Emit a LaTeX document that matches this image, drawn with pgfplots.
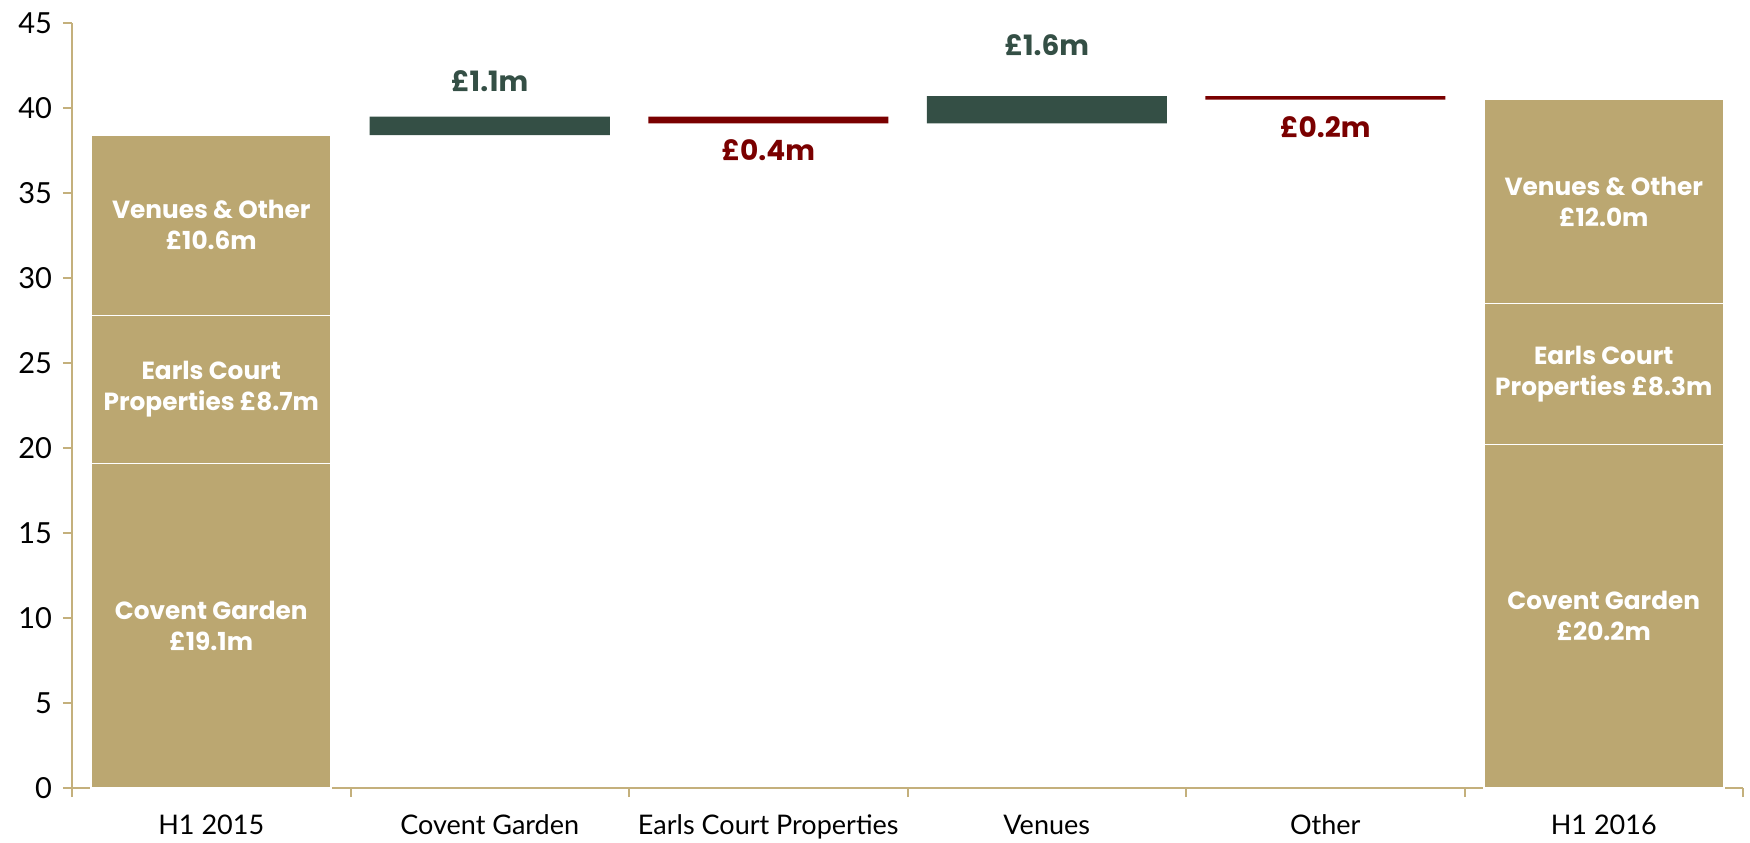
\documentclass[border=0pt]{standalone}
\usepackage{pgfplots}
\pgfplotsset{compat=1.18}
\usepackage{fontspec}
\setmainfont{Lato}
\newfontfamily\lblfont{Poppins}
\definecolor{tanbar}{HTML}{BBA771}
\definecolor{dgreen}{HTML}{344F45}
\definecolor{dred}{HTML}{7A0000}
\definecolor{axtan}{HTML}{C4B07C}
\tikzset{blbl/.style={font=\lblfont\bfseries\fontsize{12.4}{15.5}\selectfont, align=center},
         dlbl/.style={font=\lblfont\bfseries\fontsize{14}{16}\selectfont, align=center}}
\begin{document}
\begin{tikzpicture}
\useasboundingbox (-36pt,-27pt) rectangle (839pt,394pt);
\begin{axis}[
  at={(0,0)}, anchor=south west,
  scale only axis, width=835.5pt, height=382.5pt,
  xmin=-0.5, xmax=5.5, ymin=0, ymax=45,
  ybar stacked, bar width=120pt,
  axis x line*=bottom, axis y line*=left,
  axis line style={axtan, line width=1pt, -},
  ytick={0,5,...,45},
  tick align=outside,
  major tick length=4.5pt,
  xtick={-0.5,0.5,1.5,2.5,3.5,4.5,5.5},
  xticklabels={},
  extra x ticks={0,1,2,3,4,5},
  extra x tick labels={H1 2015, Covent Garden, Earls Court Properties, Venues, Other, H1 2016},
  extra x tick style={major tick length=0pt},
  xticklabel shift=10pt,
  yticklabel shift=2pt,
  tick style={axtan, line width=1pt},
  tick label style={font=\fontsize{13.5}{16}\selectfont, black},
  yticklabel style={font=\fontsize{14.5}{16}\selectfont},
  /pgf/number format/assume math mode=true,
  clip=false,
]
\addplot[fill=none, draw=none] coordinates {(0,0)(1,38.4)(2,39.1)(3,39.1)(4,40.5)(5,0)};
\addplot[fill=tanbar, draw=white, line width=0.8pt] coordinates {(0,19.1)(1,0)(2,0)(3,0)(4,0)(5,20.2)};
\addplot[fill=tanbar, draw=white, line width=0.8pt] coordinates {(0,8.7)(1,0)(2,0)(3,0)(4,0)(5,8.3)};
\addplot[fill=tanbar, draw=white, line width=0.8pt] coordinates {(0,10.6)(1,0)(2,0)(3,0)(4,0)(5,12.0)};
\addplot[fill=dgreen, draw=none] coordinates {(0,0)(1,1.1)(2,0)(3,1.6)(4,0)(5,0)};
\addplot[fill=dred, draw=none] coordinates {(0,0)(1,0)(2,0.4)(3,0)(4,0.2)(5,0)};
\coordinate (a1) at (axis cs:0,9.55);
\coordinate (a2) at (axis cs:0,23.45);
\coordinate (a3) at (axis cs:0,33.1);
\coordinate (b1) at (axis cs:5,10.1);
\coordinate (b2) at (axis cs:5,24.35);
\coordinate (b3) at (axis cs:5,34.5);
\coordinate (d1) at (axis cs:1,41.6);
\coordinate (d2) at (axis cs:2,37.5);
\coordinate (d3) at (axis cs:3,43.7);
\coordinate (d4) at (axis cs:4,38.9);
\end{axis}
\node[blbl, white] at (a1) {Covent Garden\\£19.1m};
\node[blbl, white] at (a2) {Earls Court\\Properties £8.7m};
\node[blbl, white] at (a3) {Venues \& Other\\£10.6m};
\node[blbl, white] at (b1) {Covent Garden\\£20.2m};
\node[blbl, white] at (b2) {Earls Court\\Properties £8.3m};
\node[blbl, white] at (b3) {Venues \& Other\\£12.0m};
\node[dlbl, text=dgreen] at (d1) {£1.1m};
\node[dlbl, text=dred] at (d2) {£0.4m};
\node[dlbl, text=dgreen] at (d3) {£1.6m};
\node[dlbl, text=dred] at (d4) {£0.2m};
\end{tikzpicture}
\end{document}
